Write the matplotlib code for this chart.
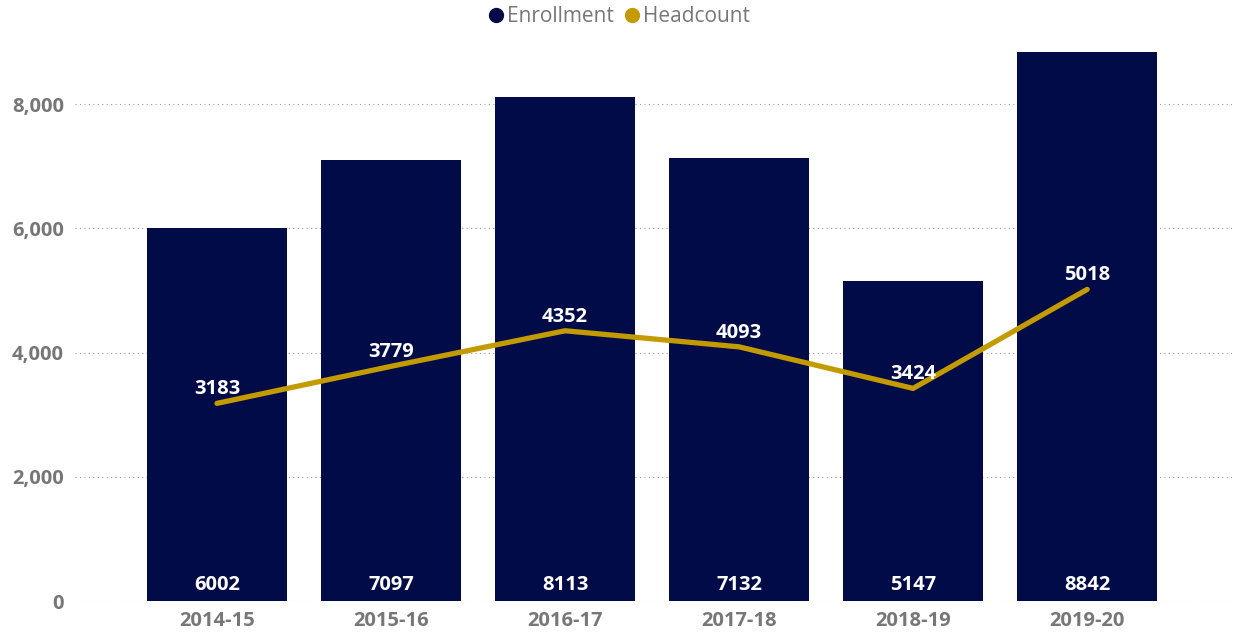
import matplotlib.pyplot as plt
from matplotlib.lines import Line2D
from matplotlib.ticker import FuncFormatter

# data
years = ['2014-15', '2015-16', '2016-17', '2017-18', '2018-19', '2019-20']
enrollment = [6002, 7097, 8113, 7132, 5147, 8842]
headcount = [3183, 3779, 4352, 4093, 3424, 5018]

navy = '#000b47'
gold = '#c39b00'
grey = '#777777'

plt.rcParams['font.family'] = ['Open Sans', 'DejaVu Sans']

fig = plt.figure(figsize=(12.35, 6.32), dpi=100)
ax = fig.add_axes([0.0607, 0.049, 0.937, 0.8956])

x = list(range(len(years)))
ax.bar(x, enrollment, width=0.805, color=navy, zorder=2)
ax.plot(x, headcount, color=gold, linewidth=3.8, solid_capstyle='round', zorder=3)

for xi, v in zip(x, enrollment):
    ax.annotate(str(v), (xi, 0), xytext=(0, 16), textcoords='offset pixels',
                ha='center', va='center', color='white', fontsize=14.5,
                fontweight='bold', zorder=4)
for xi, v in zip(x, headcount):
    ax.annotate(str(v), (xi, v), xytext=(0, 14), textcoords='offset pixels',
                ha='center', va='center', color='white', fontsize=14.5,
                fontweight='bold', zorder=4)

ax.set_xlim(-0.816, 5.833)
ax.set_ylim(0, 9114)
ax.set_yticks([0, 2000, 4000, 6000, 8000])
ax.yaxis.set_major_formatter(FuncFormatter(lambda v, p: f'{int(v):,}'))
ax.set_xticks(x)
ax.set_xticklabels(years)
ax.tick_params(axis='both', length=0, colors=grey, labelsize=14.5)
ax.tick_params(axis='y', pad=8)
ax.tick_params(axis='x', pad=7)
for lab in ax.get_xticklabels() + ax.get_yticklabels():
    lab.set_fontweight('bold')
ax.grid(axis='y', color='#999999', linestyle=(0, (1, 3)), linewidth=0.8, zorder=0)
for s in ax.spines.values():
    s.set_visible(False)

handles = [Line2D([], [], marker='o', linestyle='none', color=navy, markersize=10),
           Line2D([], [], marker='o', linestyle='none', color=gold, markersize=10)]
fig.legend(handles, ['Enrollment', 'Headcount'], loc='center', bbox_to_anchor=(0.5, 0.974),
           ncol=2, frameon=False, fontsize=15, handletextpad=0.0, columnspacing=0.3,
           labelcolor=grey, handlelength=1.1)

fig.savefig('out.png', dpi=100)
